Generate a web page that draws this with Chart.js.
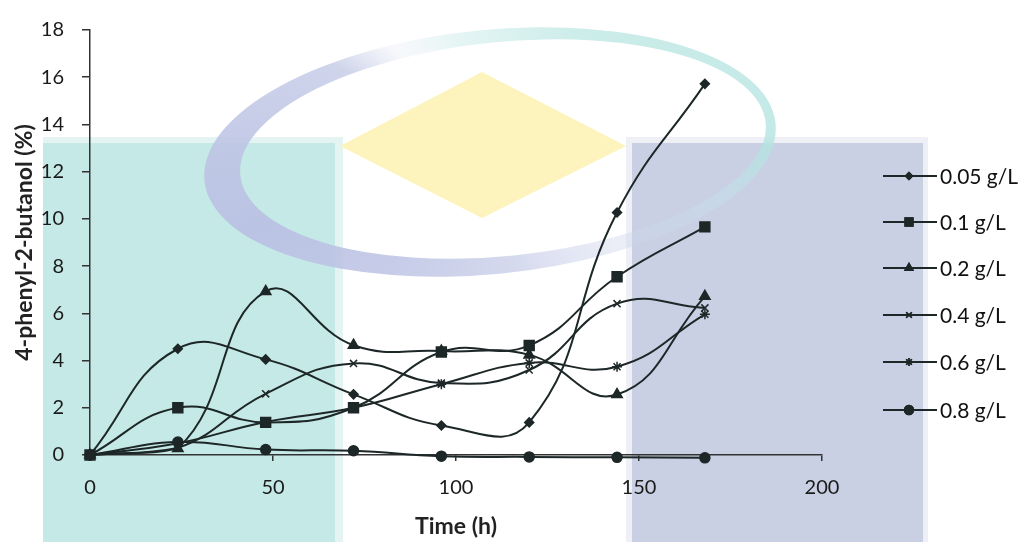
<!DOCTYPE html>
<html>
<head>
<meta charset="utf-8">
<script src="https://cdn.jsdelivr.net/npm/chart.js@4.4.0/dist/chart.umd.min.js"></script>
<style>
  html, body { margin:0; padding:0; background:#fff; }
  #wrap { width:1028px; height:542px; position:relative; }
</style>
</head>
<body>
<div id="wrap"><canvas id="c" width="1028" height="542"></canvas></div>
<script>
// sampling times (h)
const hours = [0, 24, 48, 72, 96, 120, 144, 168];

// 4-phenyl-2-butanol (%) per concentration
const labels = ["0.05 g/L", "0.1 g/L", "0.2 g/L", "0.4 g/L", "0.6 g/L", "0.8 g/L"];
const c005 = [0, 4.5, 4.05, 2.57, 1.25, 1.38, 10.27, 15.72];
const c01  = [0, 2.0, 1.38, 2.0, 4.36, 4.64, 7.55, 9.66];
const c02  = [0, 0.28, 6.93, 4.65, 4.4, 4.24, 2.56, 6.72];
const c04  = [0, 0.3, 2.59, 3.88, 3.05, 3.6, 6.41, 6.23];
const c06  = [0, 0.5, 1.4, 2.0, 3.0, 3.9, 3.74, 5.96];
const c08  = [0, 0.55, 0.23, 0.18, -0.05, -0.08, -0.1, -0.12];

const xTicks = [0, 50, 100, 150, 200];
const yTicks = [0, 2, 4, 6, 8, 10, 12, 14, 16, 18];

const series = [c005, c01, c02, c04, c06, c08];
const markers = ["rectRot", "rect", "triangle", "crossRot", "star", "circle"];
const markerSize = [4.5, 7, 6, 5, 5, 5];
const legendMarkerSize = [3.5, 5.5, 4.5, 4, 4, 4.5];
const ink = "#1d2727";
const font = "Lato, 'Open Sans', 'DejaVu Sans', sans-serif";

const datasets = series.map((vals, i) => ({
  label: labels[i],
  data: vals.map((v, k) => ({ x: hours[k], y: v })),
  borderColor: ink,
  backgroundColor: ink,
  pointBackgroundColor: ink,
  pointBorderColor: ink,
  pointStyle: markers[i],
  pointRadius: markerSize[i],
  pointBorderWidth: 1.5,
  borderWidth: 2,
  tension: 0.45,
  clip: false
}));

// scanned watermark behind the plot
const backdrop = {
  id: "backdrop",
  beforeDraw(chart) {
    const ctx = chart.ctx;
    ctx.save();
    ctx.fillStyle = "#fff";
    ctx.fillRect(0, 0, chart.width, chart.height);
    // teal block
    ctx.fillStyle = "#e4f4f3";
    ctx.fillRect(43, 137, 300, 405);
    ctx.fillStyle = "#c5e9e6";
    ctx.fillRect(43, 143, 292, 399);
    // blue block
    ctx.fillStyle = "#eef0f6";
    ctx.fillRect(626, 137, 302, 405);
    ctx.fillStyle = "#c9d0e4";
    ctx.fillRect(632, 143, 291, 399);
    // yellow diamond
    ctx.fillStyle = "#fdf4bd";
    ctx.beginPath();
    ctx.moveTo(482, 72);
    ctx.lineTo(626, 146);
    ctx.lineTo(482, 218);
    ctx.lineTo(340, 146);
    ctx.closePath();
    ctx.fill();
    // crescent ring
    const g = ctx.createConicGradient(0, 490, 150);
    g.addColorStop(0.00, "rgba(180,228,224,0.8)");
    g.addColorStop(0.04, "rgba(200,222,234,0.45)");
    g.addColorStop(0.10, "rgba(205,210,235,0.4)");
    g.addColorStop(0.22, "rgba(198,204,232,0.75)");
    g.addColorStop(0.45, "rgba(186,193,227,0.95)");
    g.addColorStop(0.58, "rgba(195,202,230,0.8)");
    g.addColorStop(0.63, "rgba(228,232,244,0.3)");
    g.addColorStop(0.70, "rgba(205,236,234,0.5)");
    g.addColorStop(0.85, "rgba(188,231,227,0.75)");
    g.addColorStop(1.00, "rgba(180,228,224,0.8)");
    ctx.fillStyle = g;
    ctx.beginPath();
    ctx.ellipse(490, 152, 287, 122, -0.1, 0, Math.PI * 2);
    ctx.ellipse(503, 149, 264, 107, -0.1, 0, Math.PI * 2);
    ctx.fill("evenodd");
    ctx.restore();
  }
};

// legend: line with marker in the middle, text to the right
const legendRows = [176, 222, 268, 315, 362, 410];
const sideLegend = {
  id: "sideLegend",
  afterDraw(chart) {
    const ctx = chart.ctx;
    ctx.save();
    chart.data.datasets.forEach((ds, i) => {
      const y = legendRows[i];
      ctx.strokeStyle = ink;
      ctx.lineWidth = 2;
      ctx.beginPath();
      ctx.moveTo(883, y);
      ctx.lineTo(937, y);
      ctx.stroke();
      ctx.fillStyle = ink;
      ctx.lineWidth = 1.5;
      Chart.helpers.drawPoint(ctx, {
        pointStyle: ds.pointStyle,
        radius: legendMarkerSize[i],
        borderWidth: 1.5,
        rotation: 0
      }, 909, y);
      ctx.fill();
      ctx.stroke();
      ctx.fillStyle = "#111";
      ctx.font = "21px " + font;
      ctx.textBaseline = "middle";
      ctx.fillText(ds.label, 940, y + 1);
    });
    ctx.restore();
  }
};

new Chart(document.getElementById("c"), {
  type: "line",
  data: { datasets },
  plugins: [backdrop, sideLegend],
  options: {
    responsive: false,
    animation: false,
    layout: { padding: { top: 22, right: 206, left: 0, bottom: 0 } },
    plugins: { legend: { display: false }, tooltip: { enabled: false } },
    scales: {
      x: {
        type: "linear",
        min: 0, max: 200,
        afterBuildTicks: s => { s.ticks = xTicks.map(v => ({ value: v })); },
        afterFit: s => { s.height = 87; },
        ticks: { color: "#1a1a1a", font: { family: font, size: 20 }, padding: 15 },
        grid: { drawOnChartArea: false, tickLength: 6, color: "#333", lineWidth: 1.5 },
        border: { color: "#333", width: 1.5 },
        title: { display: true, text: "Time (h)", color: "#222",
                 font: { family: font, size: 23, weight: "bold" }, padding: { top: 0, bottom: 2 } }
      },
      y: {
        min: 0, max: 18,
        afterBuildTicks: s => { s.ticks = yTicks.map(v => ({ value: v })); },
        afterFit: s => { s.width = 90; },
        ticks: { color: "#1a1a1a", font: { family: font, size: 20 }, padding: 18 },
        grid: { drawOnChartArea: false, tickLength: 8, color: "#333", lineWidth: 1.5 },
        border: { color: "#333", width: 1.5 },
        title: { display: true, text: "4-phenyl-2-butanol (%)", color: "#222",
                 font: { family: font, size: 23, weight: "bold" }, padding: { top: 11, bottom: 0 } }
      }
    }
  }
});
</script>
</body>
</html>
